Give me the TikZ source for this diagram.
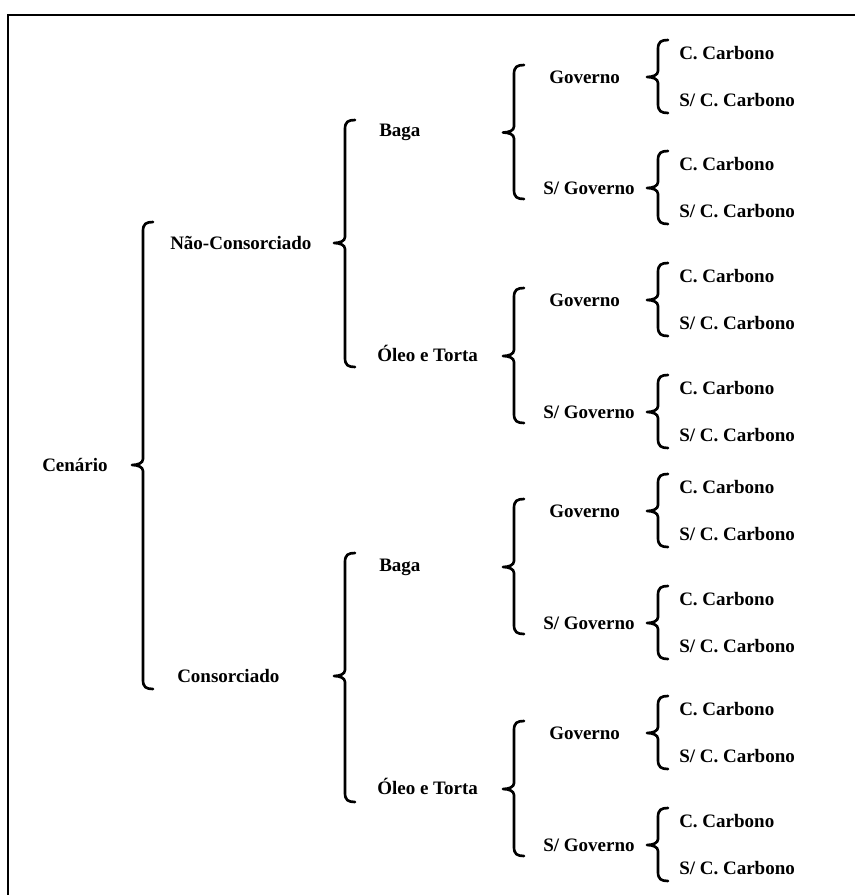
\documentclass[tikz,border=0pt]{standalone}
\usepackage{fontspec}
\setmainfont{Liberation Serif}

\tikzset{
	rotulo/.style={anchor=west, inner sep=0pt, font=\bfseries\fontsize{14.25}{16}\selectfont, text height=9.3pt, text depth=0pt},
	chavetraco/.style={line width=2pt, line cap=round, line join=round},
}
% chave: haste em x=#1, topo #2, ponta #3, base #4
\newcommand{\chave}[4]{%
	\draw[chavetraco] ({#1+10},{#2}) .. controls ({#1+3},{#2}) and ({#1},{#2+2}) .. ({#1},{#2+9})
		-- ({#1},{#3-6}) .. controls ({#1},{#3-2}) and ({#1-5},{#3}) .. ({#1-11},{#3})
		.. controls ({#1-5},{#3}) and ({#1},{#3+2}) .. ({#1},{#3+6})
		-- ({#1},{#4-9}) .. controls ({#1},{#4-2}) and ({#1+3},{#4}) .. ({#1+10},{#4});}

\begin{document}
\begin{tikzpicture}[x=0.75pt, y=-0.75pt]
		\useasboundingbox (0,0) rectangle (855,895);
		\draw[line width=1.5pt] (8,895) -- (8,15) -- (855,15);

		\node[rotulo] (cen) at (42,465) {Cenário};
		\chave{143}{222}{465}{689}
		\node[rotulo] (nc) at (170,243) {Não-Consorciado};
		\node[rotulo] (co) at (177,676) {Consorciado};

		\chave{345}{120}{243}{367}
		\chave{345}{553}{676}{802}
		\node[rotulo] (baga1) at (379,130) {Baga};
		\node[rotulo] (oleo1) at (377,355) {Óleo e Torta};
		\node[rotulo] (baga2) at (379,565) {Baga};
		\node[rotulo] (oleo2) at (377,788) {Óleo e Torta};

		\foreach \a/\b in {77/188, 300/412, 511/623, 733/845}
			\chave{514}{\a-12}{(\a+\b)/2}{\b+11};
		\foreach \g [count=\i] in {77,300,511,733}
			\node[rotulo] (gov\i) at (549,\g) {Governo};
		\foreach \g [count=\i] in {188,412,623,845}
			\node[rotulo] (sgov\i) at (543,\g) {S/ Governo};

		\foreach \g [count=\i] in {77,188,300,412,511,623,733,845} {
			\chave{658}{\g-37}{\g}{\g+36}
			\node[rotulo] (cc\i) at (679,\g-24) {C. Carbono};
			\node[rotulo] (scc\i) at (679,\g+23) {S/ C. Carbono};
		}
	\end{tikzpicture}
\end{document}
